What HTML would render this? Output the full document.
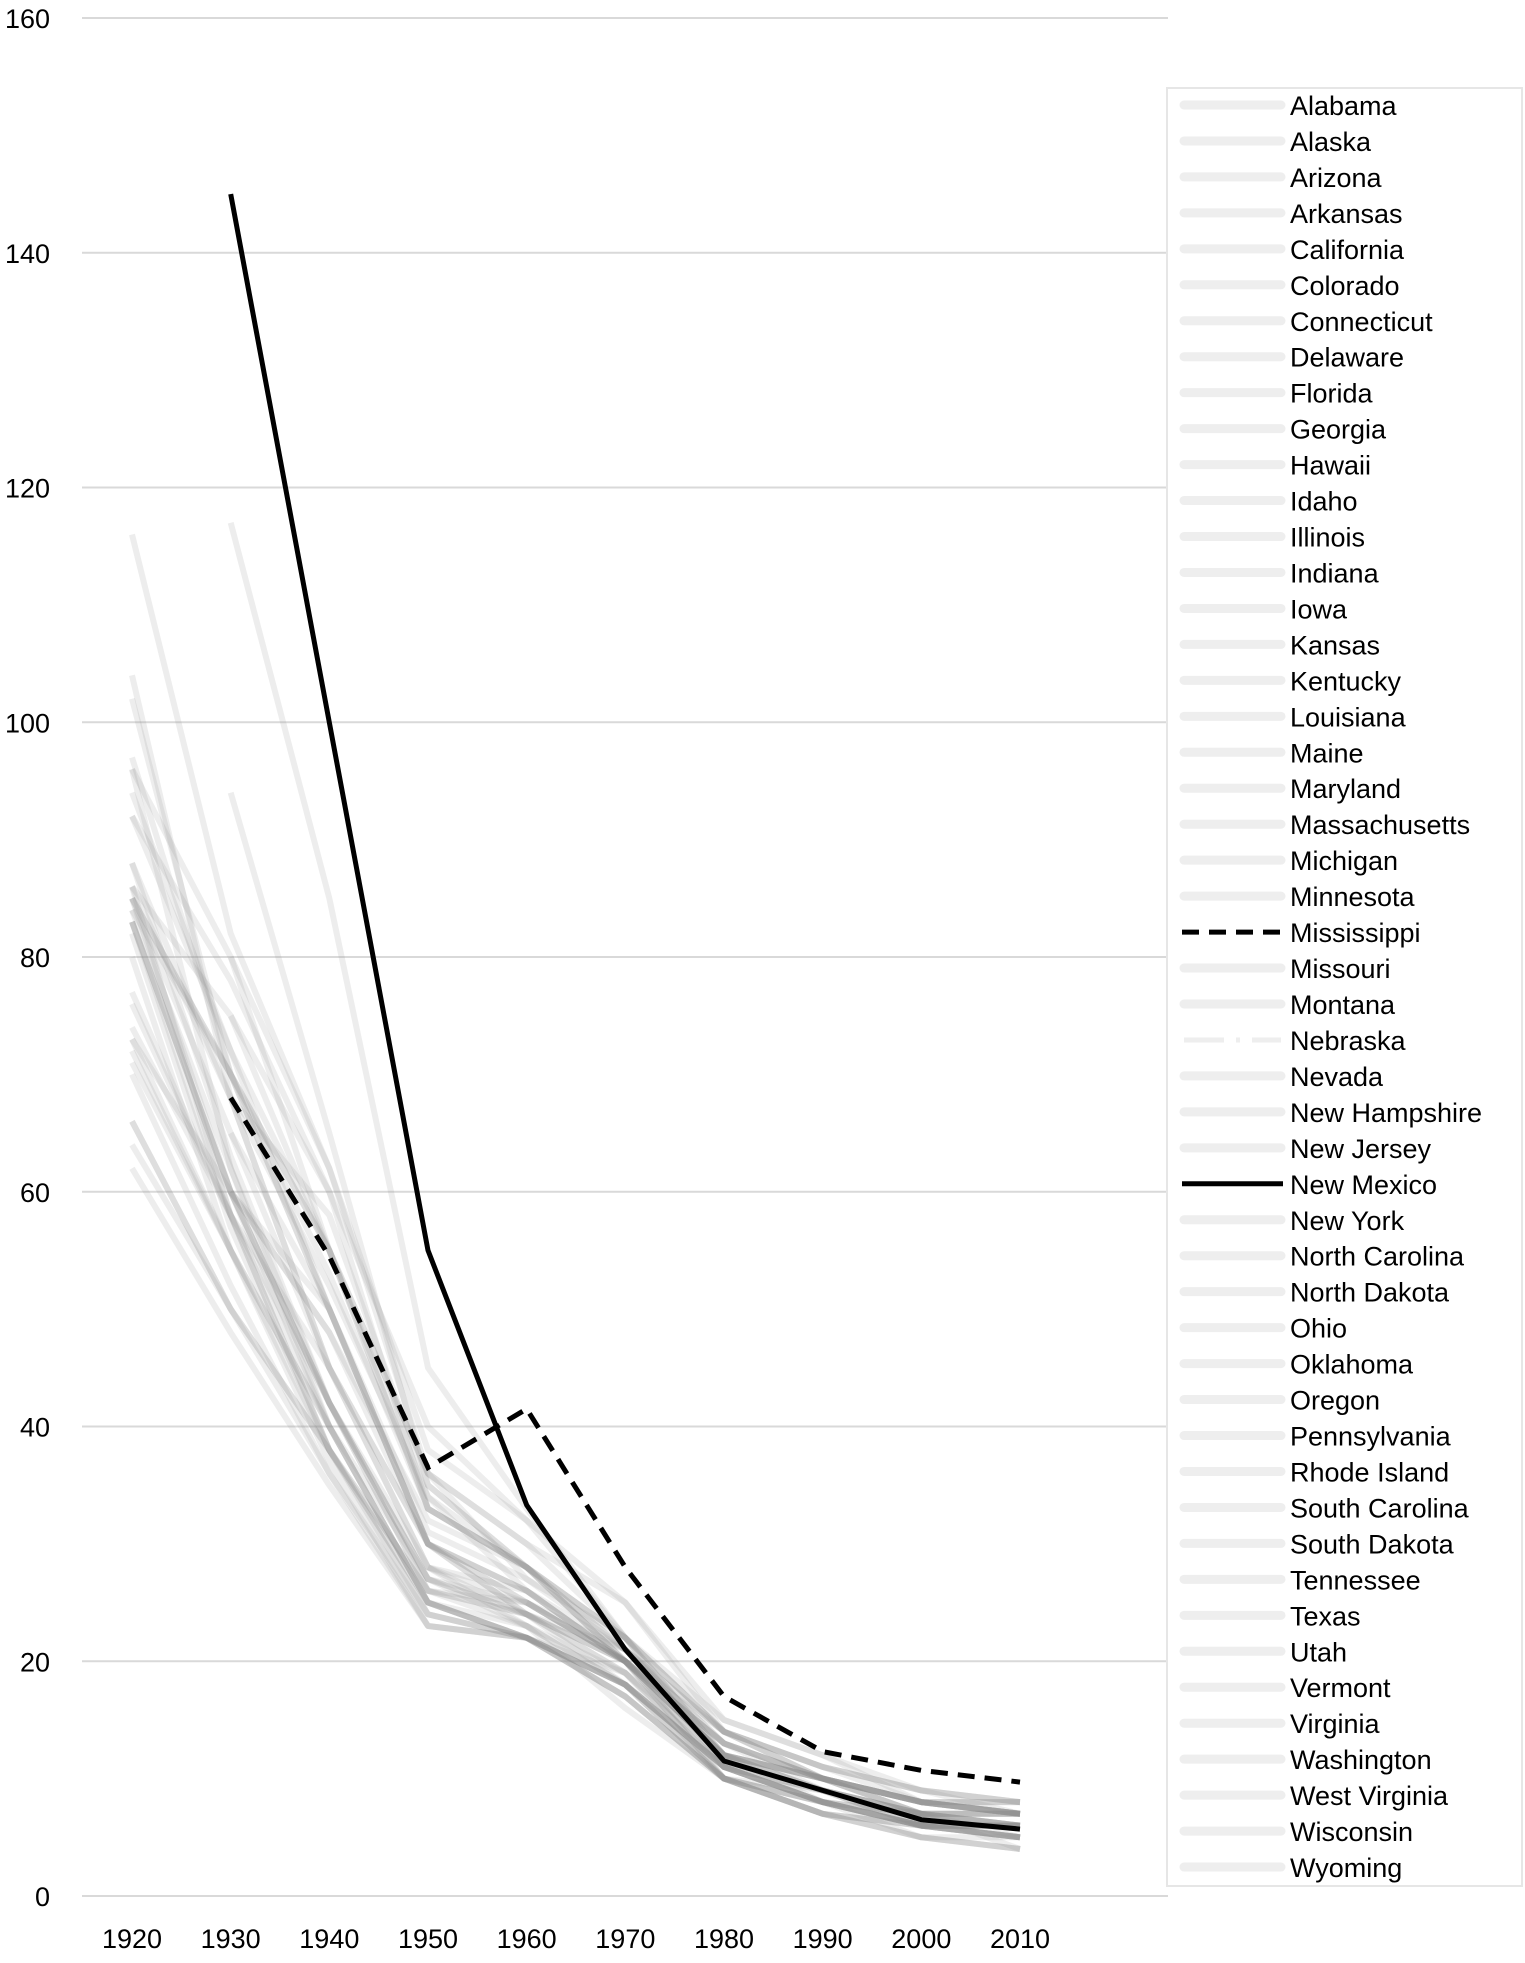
<!DOCTYPE html>
<html><head><meta charset="utf-8"><style>
html,body{margin:0;padding:0;background:#fff}
svg{display:block;font-family:"Liberation Sans",sans-serif}
</style></head><body>
<svg id="chart" width="1525" height="1963" viewBox="0 0 1525 1963">
<g id="grid"></g>
<g id="yticks"></g>
<g id="xticks"></g>
<g id="series"></g>
<g id="legend">
<rect x="1167" y="88" width="355" height="1798" fill="#fff" stroke="#e6e6e6" stroke-width="2"/>
</g>
</svg>
<script>
const years=[1920,1930,1940,1950,1960,1970,1980,1990,2000,2010];
const yTicks=[0,20,40,60,80,100,120,140,160];
const states=["Alabama","Alaska","Arizona","Arkansas","California","Colorado","Connecticut","Delaware","Florida","Georgia","Hawaii","Idaho","Illinois","Indiana","Iowa","Kansas","Kentucky","Louisiana","Maine","Maryland","Massachusetts","Michigan","Minnesota","Mississippi","Missouri","Montana","Nebraska","Nevada","New Hampshire","New Jersey","New Mexico","New York","North Carolina","North Dakota","Ohio","Oklahoma","Oregon","Pennsylvania","Rhode Island","South Carolina","South Dakota","Tennessee","Texas","Utah","Vermont","Virginia","Washington","West Virginia","Wisconsin","Wyoming"];
const values=[
[null,68,58,35,28,22,14,11,9,8],
[null,null,null,null,25,20,12,10,7,4],
[null,117,85,45,33,22,12,9,7,6],
[null,60,50,31,27,21,13,10,8,7],
[73,55,40,25,22,18,11,8,6,5],
[92,78,60,33,28,20,10,8,6,6],
[72,55,37,23,22,18,11,8,6,5],
[102,70,50,30,26,20,14,10,8,8],
[null,60,48,32,28,22,14,10,7,7],
[null,80,62,36,30,22,15,12,8,7],
[null,null,null,28,24,18,11,8,7,6],
[77,58,42,26,24,19,11,9,7,6],
[82,57,38,26,25,21,14,10,8,7],
[83,60,42,27,24,20,12,10,8,7],
[71,55,38,24,22,18,11,8,6,5],
[66,50,38,24,22,18,10,9,7,6],
[86,68,52,34,26,21,12,9,7,7],
[null,75,60,40,32,22,14,11,9,8],
[94,72,50,30,24,19,10,7,6,6],
[97,70,50,30,26,20,13,10,8,7],
[85,60,40,25,22,17,10,7,5,4],
[88,63,42,27,25,20,13,10,8,7],
[70,52,36,24,22,18,10,7,6,5],
[null,68,54.5,36.5,41.5,28,17,12.3,10.7,9.7],
[83,60,42,28,26,20,12,10,8,7],
[74,58,45,30,24,21,12,9,6,6],
[64,50,38,25,23,18,11,9,7,5],
[92,72,55,34,28,22,11,8,6,6],
[84,62,40,25,22,17,10,7,5,4],
[83,58,38,25,22,19,12,9,6,5],
[null,145,100,55,33.3,21,11.5,9,6.5,5.7],
[86,58,38,26,24,20,13,9,6,5],
[85,70,55,36,30,25,14,11,8,7],
[85,65,45,30,26,20,11,8,7,6],
[83,60,42,27,24,20,12,10,8,8],
[null,65,50,30,25,20,12,10,8,7],
[62,48,35,23,22,18,11,8,6,5],
[104,68,45,28,25,20,13,10,7,7],
[96,62,42,26,23,19,11,8,6,6],
[116,82,62,38,32,25,15,12,9,7],
[73,60,48,30,25,20,11,9,7,7],
[85,70,53,33,28,21,14,11,9,8],
[null,94,65,35,28,20,12,8,6,6],
[80,55,40,27,23,16,10,7,5,5],
[88,68,45,28,23,18,10,7,6,5],
[96,80,55,33,28,21,13,10,7,7],
[66,50,36,23,22,17,10,8,5,4],
[86,75,55,36,27,22,12,10,8,8],
[76,58,40,25,22,17,10,8,6,6],
[84,70,55,33,28,20,10,8,7,6]
];
const NS="http://www.w3.org/2000/svg";
const x=yr=>132+(yr-1920)/90*(1020-132);
const y=v=>1896-v*(1896-18)/160;
function mk(tag,attrs,parent){const e=document.createElementNS(NS,tag);for(const k in attrs)e.setAttribute(k,attrs[k]);parent.appendChild(e);return e;}
const grid=document.getElementById('grid'),yt=document.getElementById('yticks'),xt=document.getElementById('xticks'),ser=document.getElementById('series'),leg=document.getElementById('legend');
yTicks.forEach(t=>{
  const l=mk('line',{x1:82,x2:1168,y1:y(t),y2:y(t),stroke:'#d9d9d9','stroke-width':2},grid);
  
  
  const tx=mk('text',{x:50,y:y(t)+10,'text-anchor':'end','font-size':27,fill:'#000'},yt);
  tx.textContent=t;
  
  
});
years.forEach(yr=>{
  const tx=mk('text',{x:x(yr),y:1948,'text-anchor':'middle','font-size':27,fill:'#000'},xt);
  tx.textContent=yr;
  
  
});
function pathFor(vals){let d='',started=false;vals.forEach((v,i)=>{if(v==null)return;d+=(started?'L':'M')+x(years[i]).toFixed(1)+','+y(v).toFixed(1);started=true;});return d;}
const special={"Mississippi":1,"New Mexico":1};
states.forEach((s,i)=>{
  if(special[s])return;
  const p=mk('path',{d:pathFor(values[i]),fill:'none',stroke:'rgba(140,140,140,0.16)','stroke-width':6,'stroke-linejoin':'round'},ser);
  
  
});
const mi=states.indexOf("Mississippi"),nm=states.indexOf("New Mexico");
const pm=mk('path',{d:pathFor(values[mi]),fill:'none',stroke:'#000','stroke-width':5,'stroke-dasharray':'17,10'},ser);


const pn=mk('path',{d:pathFor(values[nm]),fill:'none',stroke:'#000','stroke-width':5,'stroke-linejoin':'round'},ser);


states.forEach((s,i)=>{
  const cy=105+i*35.96;
  let attrs={x1:1184,x2:1281,y1:cy,y2:cy,stroke:'#eeeeee','stroke-width':9,'stroke-linecap':'round'};
  if(s==="Mississippi")attrs={x1:1182,x2:1283,y1:cy,y2:cy,stroke:'#000','stroke-width':5,'stroke-dasharray':'17,10'};
  if(s==="New Mexico")attrs={x1:1182,x2:1283,y1:cy,y2:cy,stroke:'#000','stroke-width':5};
  if(s==="Nebraska")attrs={x1:1184,x2:1281,y1:cy,y2:cy,stroke:'#eeeeee','stroke-width':5,'stroke-dasharray':'40,12,4,12'};
  const l=mk('line',attrs,leg);
  
  
  const t=mk('text',{x:1290,y:cy+10,'font-size':27,fill:'#000'},leg);
  t.textContent=s;
  
  
});
</script>
</body></html>
